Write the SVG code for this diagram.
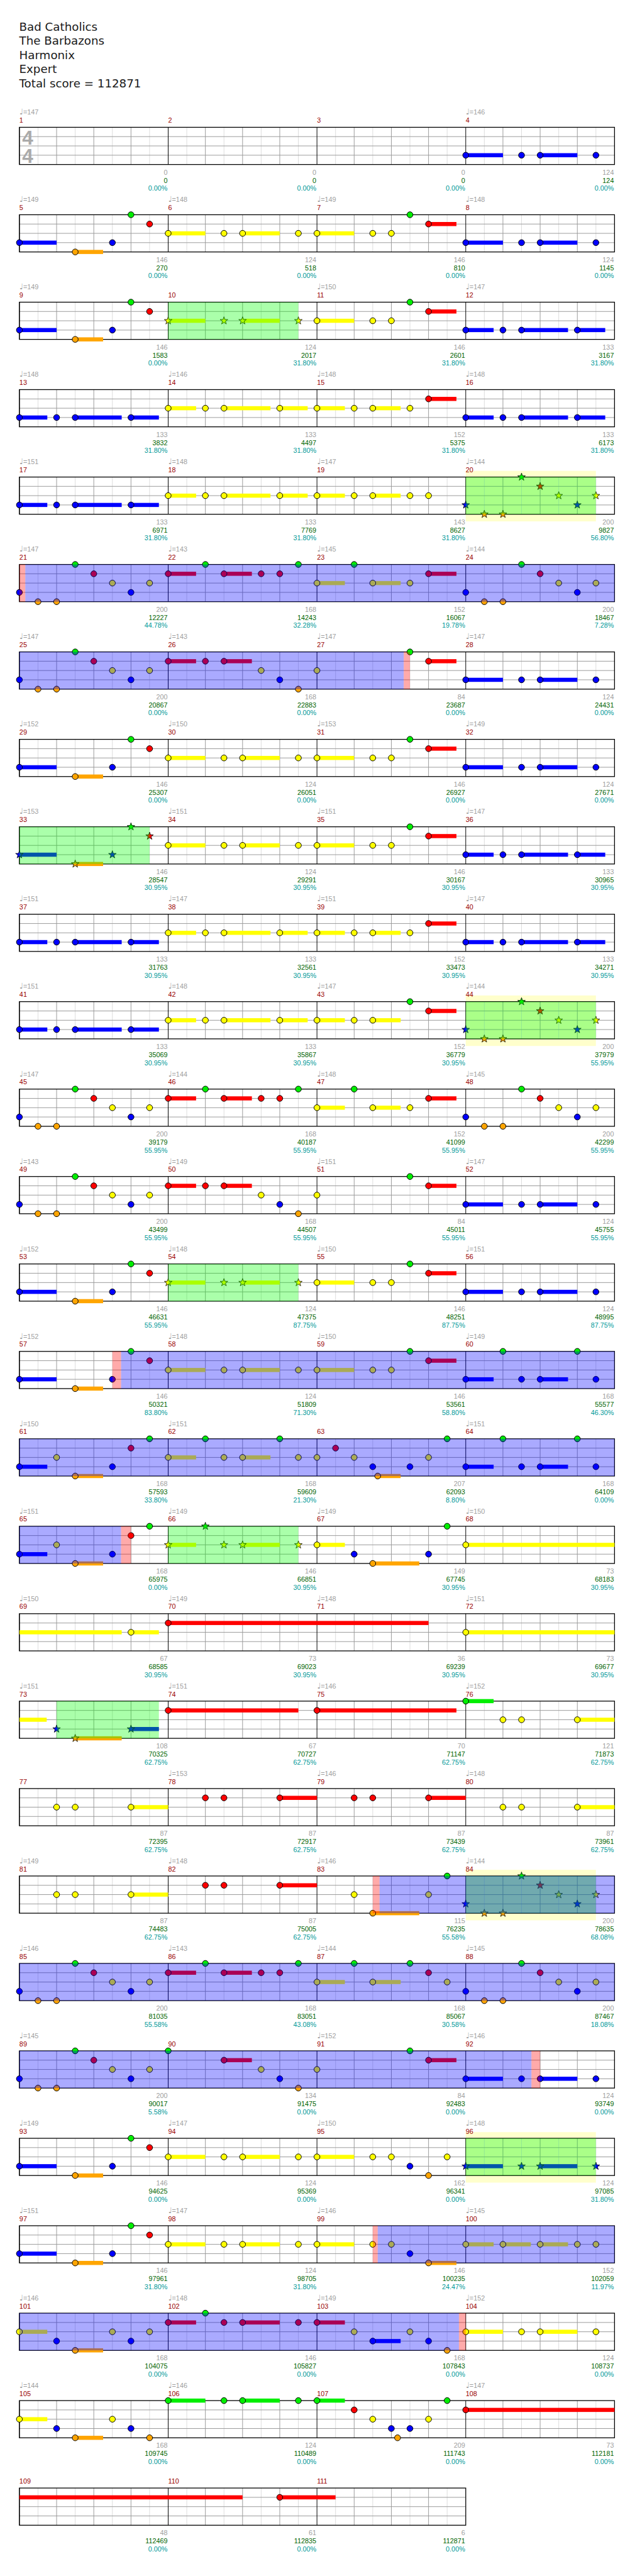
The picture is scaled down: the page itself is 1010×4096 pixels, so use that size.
<svg xmlns="http://www.w3.org/2000/svg" xmlns:xlink="http://www.w3.org/1999/xlink" width="1010" height="4096" viewBox="0 0 1010 4096">
<style>
text{font-family:"Liberation Sans",Arial,sans-serif;font-size:11px}
.t{fill:#a0a0a0}
.m{fill:#990000}
.a{fill:#a0a0a0;text-anchor:end}
.b{fill:#006400;text-anchor:end}
.c{fill:#009999;text-anchor:end}
.h{font-family:"DejaVu Sans",sans-serif;font-size:18.5px;fill:#1a1a1a}
.q{font-family:"DejaVu Sans",sans-serif;font-size:13px}
.ts{font-family:"Liberation Sans",Arial,sans-serif;font-size:32px;font-weight:bold;fill:#aaaaaa}
circle{stroke:#000;stroke-width:1}
.G{fill:#00ee00}.R{fill:#ff0000}.Y{fill:#ffff00}.B{fill:#0000ff}.O{fill:#ffa500}
.od{fill:#00ff00;fill-opacity:.333}
.bl{fill:#0000ff;fill-opacity:.333}
.pk{fill:#ff0000;fill-opacity:.333}
.yl{fill:#ffff00;fill-opacity:.2}
</style>
<defs>
<g id="mg"><path d="M30 0V60M90 0V60M150 0V60M210 0V60" stroke="#dcdcdc"/><path d="M0 15H240M0 30H240M0 45H240M60 0V60M120 0V60M180 0V60" stroke="#9a9a9a"/><path d="M0 0V60" stroke="#000"/></g>
<g id="g4"><use href="#mg"/><use href="#mg" x="240"/><use href="#mg" x="480"/><use href="#mg" x="720"/><rect width="960" height="60" fill="none" stroke="#000" stroke-width="1.3"/></g>
<g id="g3"><use href="#mg"/><use href="#mg" x="240"/><use href="#mg" x="480"/><rect width="720" height="60" fill="none" stroke="#000" stroke-width="1.3"/></g>
<path id="st" d="M0-6.5L1.53-2.1L6.18-2.01L2.47 0.8L3.82 5.26L0 2.6L-3.82 5.26L-2.47 0.8L-6.18-2.01L-1.53-2.1Z" stroke="#000" stroke-width=".8"/>
<g id="pA1"><rect class="B" x="0" y="41.7" width="60" height="6.6"/><rect class="O" x="90" y="56.7" width="45" height="6.6"/><circle class="B" cx="0" cy="45" r="4.8"/><circle class="O" cx="90" cy="60" r="4.8"/><circle class="B" cx="150" cy="45" r="4.8"/><circle class="G" cx="180" cy="0" r="4.8"/><circle class="R" cx="210" cy="15" r="4.8"/></g>
<g id="pA2"><rect class="Y" x="0" y="26.7" width="60" height="6.6"/><rect class="Y" x="120" y="26.7" width="60" height="6.6"/><circle class="Y" cx="0" cy="30" r="4.8"/><circle class="Y" cx="90" cy="30" r="4.8"/><circle class="Y" cx="120" cy="30" r="4.8"/><circle class="Y" cx="210" cy="30" r="4.8"/></g>
<g id="pA3"><rect class="Y" x="0" y="26.7" width="60" height="6.6"/><rect class="R" x="180" y="11.7" width="45" height="6.6"/><circle class="Y" cx="0" cy="30" r="4.8"/><circle class="Y" cx="90" cy="30" r="4.8"/><circle class="Y" cx="120" cy="30" r="4.8"/><circle class="G" cx="150" cy="0" r="4.8"/><circle class="R" cx="180" cy="15" r="4.8"/></g>
<g id="pA4"><rect class="B" x="0" y="41.7" width="60" height="6.6"/><rect class="B" x="120" y="41.7" width="60" height="6.6"/><circle class="B" cx="0" cy="45" r="4.8"/><circle class="B" cx="90" cy="45" r="4.8"/><circle class="B" cx="120" cy="45" r="4.8"/><circle class="B" cx="210" cy="45" r="4.8"/></g>
<g id="pBm"><rect class="B" x="0" y="41.7" width="45" height="6.6"/><rect class="B" x="90" y="41.7" width="75" height="6.6"/><rect class="B" x="180" y="41.7" width="45" height="6.6"/><circle class="B" cx="0" cy="45" r="4.8"/><circle class="B" cx="60" cy="45" r="4.8"/><circle class="B" cx="90" cy="45" r="4.8"/><circle class="B" cx="180" cy="45" r="4.8"/></g>
<g id="pYf"><rect class="Y" x="0" y="26.7" width="45" height="6.6"/><rect class="Y" x="90" y="26.7" width="75" height="6.6"/><rect class="Y" x="180" y="26.7" width="45" height="6.6"/><circle class="Y" cx="0" cy="30" r="4.8"/><circle class="Y" cx="60" cy="30" r="4.8"/><circle class="Y" cx="90" cy="30" r="4.8"/><circle class="Y" cx="180" cy="30" r="4.8"/></g>
<g id="pY2"><rect class="Y" x="0" y="26.7" width="45" height="6.6"/><rect class="Y" x="90" y="26.7" width="45" height="6.6"/><rect class="R" x="180" y="11.7" width="45" height="6.6"/><circle class="Y" cx="0" cy="30" r="4.8"/><circle class="Y" cx="60" cy="30" r="4.8"/><circle class="Y" cx="90" cy="30" r="4.8"/><circle class="Y" cx="150" cy="30" r="4.8"/><circle class="R" cx="180" cy="15" r="4.8"/></g>
<g id="pY3"><rect class="Y" x="0" y="26.7" width="45" height="6.6"/><rect class="Y" x="90" y="26.7" width="45" height="6.6"/><circle class="Y" cx="0" cy="30" r="4.8"/><circle class="Y" cx="60" cy="30" r="4.8"/><circle class="Y" cx="90" cy="30" r="4.8"/><circle class="Y" cx="150" cy="30" r="4.8"/><circle class="Y" cx="180" cy="30" r="4.8"/></g>
<g id="pY4"><rect class="Y" x="0" y="26.7" width="45" height="6.6"/><rect class="Y" x="90" y="26.7" width="45" height="6.6"/><rect class="R" x="180" y="11.7" width="45" height="6.6"/><circle class="Y" cx="0" cy="30" r="4.8"/><circle class="Y" cx="60" cy="30" r="4.8"/><circle class="Y" cx="90" cy="30" r="4.8"/><circle class="G" cx="150" cy="0" r="4.8"/><circle class="R" cx="180" cy="15" r="4.8"/></g>
<g id="pP1"><circle class="B" cx="0" cy="45" r="4.8"/><circle class="O" cx="30" cy="60" r="4.8"/><circle class="O" cx="60" cy="60" r="4.8"/><circle class="G" cx="90" cy="0" r="4.8"/><circle class="R" cx="120" cy="15" r="4.8"/><circle class="Y" cx="150" cy="30" r="4.8"/><circle class="B" cx="180" cy="45" r="4.8"/><circle class="Y" cx="210" cy="30" r="4.8"/></g>
<g id="pP2"><rect class="R" x="0" y="11.7" width="45" height="6.6"/><rect class="R" x="90" y="11.7" width="45" height="6.6"/><circle class="R" cx="0" cy="15" r="4.8"/><circle class="G" cx="60" cy="0" r="4.8"/><circle class="R" cx="90" cy="15" r="4.8"/><circle class="R" cx="150" cy="15" r="4.8"/><circle class="R" cx="180" cy="15" r="4.8"/><circle class="G" cx="210" cy="0" r="4.8"/></g>
<g id="pP3"><rect class="Y" x="0" y="26.7" width="45" height="6.6"/><rect class="Y" x="90" y="26.7" width="45" height="6.6"/><rect class="R" x="180" y="11.7" width="45" height="6.6"/><circle class="Y" cx="0" cy="30" r="4.8"/><circle class="G" cx="60" cy="0" r="4.8"/><circle class="Y" cx="90" cy="30" r="4.8"/><circle class="Y" cx="150" cy="30" r="4.8"/><circle class="R" cx="180" cy="15" r="4.8"/></g>
<g id="pP2b"><rect class="R" x="0" y="11.7" width="45" height="6.6"/><rect class="R" x="90" y="11.7" width="45" height="6.6"/><circle class="R" cx="0" cy="15" r="4.8"/><circle class="R" cx="60" cy="15" r="4.8"/><circle class="R" cx="90" cy="15" r="4.8"/><circle class="Y" cx="150" cy="30" r="4.8"/><circle class="B" cx="180" cy="45" r="4.8"/><circle class="O" cx="210" cy="60" r="4.8"/></g>
<g id="pP3b"><rect class="R" x="180" y="11.7" width="45" height="6.6"/><circle class="Y" cx="0" cy="30" r="4.8"/><circle class="G" cx="150" cy="0" r="4.8"/><circle class="R" cx="180" cy="15" r="4.8"/></g>
<g id="pF"><rect class="B" x="0" y="41.7" width="45" height="6.6"/><rect class="B" x="120" y="41.7" width="45" height="6.6"/><circle class="B" cx="0" cy="45" r="4.8"/><circle class="G" cx="60" cy="0" r="4.8"/><circle class="B" cx="90" cy="45" r="4.8"/><circle class="B" cx="120" cy="45" r="4.8"/><circle class="G" cx="180" cy="0" r="4.8"/><circle class="B" cx="210" cy="45" r="4.8"/></g>
<g id="pM61"><rect class="B" x="0" y="41.7" width="45" height="6.6"/><rect class="O" x="90" y="56.7" width="45" height="6.6"/><circle class="B" cx="0" cy="45" r="4.8"/><circle class="Y" cx="60" cy="30" r="4.8"/><circle class="O" cx="90" cy="60" r="4.8"/><circle class="B" cx="150" cy="45" r="4.8"/><circle class="R" cx="180" cy="15" r="4.8"/><circle class="G" cx="210" cy="0" r="4.8"/></g>
<g id="pQY"><rect class="Y" x="180" y="26.7" width="60" height="6.6"/><circle class="Y" cx="60" cy="30" r="4.8"/><circle class="Y" cx="90" cy="30" r="4.8"/><circle class="Y" cx="180" cy="30" r="4.8"/></g>
<g id="pQR"><rect class="R" x="180" y="11.7" width="60" height="6.6"/><circle class="R" cx="60" cy="15" r="4.8"/><circle class="R" cx="90" cy="15" r="4.8"/><circle class="R" cx="180" cy="15" r="4.8"/></g>
<g id="sA1"><rect class="B" x="0" y="41.7" width="60" height="6.6"/><rect class="O" x="90" y="56.7" width="45" height="6.6"/><use href="#st" class="B" x="0" y="45"/><use href="#st" class="O" x="90" y="60"/><use href="#st" class="B" x="150" y="45"/><use href="#st" class="G" x="180" y="0"/><use href="#st" class="R" x="210" y="15"/></g>
<g id="sA2"><rect class="Y" x="0" y="26.7" width="60" height="6.6"/><rect class="Y" x="120" y="26.7" width="60" height="6.6"/><use href="#st" class="Y" x="0" y="30"/><use href="#st" class="Y" x="90" y="30"/><use href="#st" class="Y" x="120" y="30"/><use href="#st" class="Y" x="210" y="30"/></g>
<g id="sP1"><use href="#st" class="B" x="0" y="45"/><use href="#st" class="O" x="30" y="60"/><use href="#st" class="O" x="60" y="60"/><use href="#st" class="G" x="90" y="0"/><use href="#st" class="R" x="120" y="15"/><use href="#st" class="Y" x="150" y="30"/><use href="#st" class="B" x="180" y="45"/><use href="#st" class="Y" x="210" y="30"/></g>
<g id="sA4"><rect class="B" x="0" y="41.7" width="60" height="6.6"/><rect class="B" x="120" y="41.7" width="60" height="6.6"/><use href="#st" class="B" x="0" y="45"/><use href="#st" class="B" x="90" y="45"/><use href="#st" class="B" x="120" y="45"/><use href="#st" class="B" x="210" y="45"/></g>
</defs>
<rect width="1010" height="4096" fill="#fff"/>
<g transform="scale(0.986)">
<g id="title">
<text class="h" x="31" y="49.3">Bad Catholics</text>
<text class="h" x="31" y="71.7">The Barbazons</text>
<text class="h" x="31" y="95">Harmonix</text>
<text class="h" x="31" y="117.7">Expert</text>
<text class="h" x="31" y="141">Total score = 112871</text>
</g>

<g id="row1" transform="translate(31.3,205.3)">
<use href="#g4"/>
<text class="ts" x="4.5" y="27.5">4</text><text class="ts" x="4.5" y="57.5">4</text>
<use href="#pA4" x="720"/>
<text class="t" y="-20.5"><tspan x="0" class="q">♩</tspan>=147<tspan x="720" class="q">♩</tspan>=146</text>
<text class="m" y="-7.5"><tspan x="0">1</tspan><tspan x="240">2</tspan><tspan x="480">3</tspan><tspan x="720">4</tspan></text>
<text class="a" y="76.3"><tspan x="239">0</tspan><tspan x="479">0</tspan><tspan x="719">0</tspan><tspan x="959">124</tspan></text>
<text class="b" y="89.6"><tspan x="239">0</tspan><tspan x="479">0</tspan><tspan x="719">0</tspan><tspan x="959">124</tspan></text>
<text class="c" y="102.3"><tspan x="239">0.00%</tspan><tspan x="479">0.00%</tspan><tspan x="719">0.00%</tspan><tspan x="959">0.00%</tspan></text>
</g>

<g id="row2" transform="translate(31.3,346.3)">
<use href="#g4"/>
<use href="#pA1"/><use href="#pA2" x="240"/><use href="#pA3" x="480"/><use href="#pA4" x="720"/>
<text class="t" y="-20.5"><tspan x="0" class="q">♩</tspan>=149<tspan x="240" class="q">♩</tspan>=148<tspan x="480" class="q">♩</tspan>=149<tspan x="720" class="q">♩</tspan>=148</text>
<text class="m" y="-7.5"><tspan x="0">5</tspan><tspan x="240">6</tspan><tspan x="480">7</tspan><tspan x="720">8</tspan></text>
<text class="a" y="76.3"><tspan x="239">146</tspan><tspan x="479">124</tspan><tspan x="719">146</tspan><tspan x="959">124</tspan></text>
<text class="b" y="89.6"><tspan x="239">270</tspan><tspan x="479">518</tspan><tspan x="719">810</tspan><tspan x="959">1145</tspan></text>
<text class="c" y="102.3"><tspan x="239">0.00%</tspan><tspan x="479">0.00%</tspan><tspan x="719">0.00%</tspan><tspan x="959">0.00%</tspan></text>
</g>

<g id="row3" transform="translate(31.3,487.3)">
<use href="#g4"/>
<use href="#pA1"/><use href="#sA2" x="240"/><use href="#pA3" x="480"/><use href="#pBm" x="720"/>
<rect class="od" x="240" width="210" height="60"/>
<text class="t" y="-20.5"><tspan x="0" class="q">♩</tspan>=149<tspan x="480" class="q">♩</tspan>=150<tspan x="720" class="q">♩</tspan>=147</text>
<text class="m" y="-7.5"><tspan x="0">9</tspan><tspan x="240">10</tspan><tspan x="480">11</tspan><tspan x="720">12</tspan></text>
<text class="a" y="76.3"><tspan x="239">146</tspan><tspan x="479">124</tspan><tspan x="719">146</tspan><tspan x="959">133</tspan></text>
<text class="b" y="89.6"><tspan x="239">1583</tspan><tspan x="479">2017</tspan><tspan x="719">2601</tspan><tspan x="959">3167</tspan></text>
<text class="c" y="102.3"><tspan x="239">0.00%</tspan><tspan x="479">31.80%</tspan><tspan x="719">31.80%</tspan><tspan x="959">31.80%</tspan></text>
</g>

<g id="row4" transform="translate(31.3,628.3)">
<use href="#g4"/>
<use href="#pBm"/><use href="#pYf" x="240"/><use href="#pY2" x="480"/><use href="#pBm" x="720"/>
<text class="t" y="-20.5"><tspan x="0" class="q">♩</tspan>=148<tspan x="240" class="q">♩</tspan>=146<tspan x="480" class="q">♩</tspan>=148<tspan x="720" class="q">♩</tspan>=148</text>
<text class="m" y="-7.5"><tspan x="0">13</tspan><tspan x="240">14</tspan><tspan x="480">15</tspan><tspan x="720">16</tspan></text>
<text class="a" y="76.3"><tspan x="239">133</tspan><tspan x="479">133</tspan><tspan x="719">152</tspan><tspan x="959">133</tspan></text>
<text class="b" y="89.6"><tspan x="239">3832</tspan><tspan x="479">4497</tspan><tspan x="719">5375</tspan><tspan x="959">6173</tspan></text>
<text class="c" y="102.3"><tspan x="239">31.80%</tspan><tspan x="479">31.80%</tspan><tspan x="719">31.80%</tspan><tspan x="959">31.80%</tspan></text>
</g>

<g id="row5" transform="translate(31.3,769.3)">
<rect class="yl" x="720" y="-10" width="210" height="81.5"/>
<use href="#g4"/>
<use href="#pBm"/><use href="#pYf" x="240"/><use href="#pY3" x="480"/><use href="#sP1" x="720"/>
<rect class="od" x="720" width="210" height="60"/>
<text class="t" y="-20.5"><tspan x="0" class="q">♩</tspan>=151<tspan x="240" class="q">♩</tspan>=148<tspan x="480" class="q">♩</tspan>=147<tspan x="720" class="q">♩</tspan>=144</text>
<text class="m" y="-7.5"><tspan x="0">17</tspan><tspan x="240">18</tspan><tspan x="480">19</tspan><tspan x="720">20</tspan></text>
<text class="a" y="76.3"><tspan x="239">133</tspan><tspan x="479">133</tspan><tspan x="719">143</tspan><tspan x="959">200</tspan></text>
<text class="b" y="89.6"><tspan x="239">6971</tspan><tspan x="479">7769</tspan><tspan x="719">8627</tspan><tspan x="959">9827</tspan></text>
<text class="c" y="102.3"><tspan x="239">31.80%</tspan><tspan x="479">31.80%</tspan><tspan x="719">31.80%</tspan><tspan x="959">56.80%</tspan></text>
</g>

<g id="row6" transform="translate(31.3,910.3)">
<use href="#g4"/>
<use href="#pP1"/><use href="#pP2" x="240"/><use href="#pP3" x="480"/><use href="#pP1" x="720"/>
<rect class="pk" x="0" width="9.5" height="60"/><rect class="bl" x="9.5" width="950.5" height="60"/>
<text class="t" y="-20.5"><tspan x="0" class="q">♩</tspan>=147<tspan x="240" class="q">♩</tspan>=143<tspan x="480" class="q">♩</tspan>=145<tspan x="720" class="q">♩</tspan>=144</text>
<text class="m" y="-7.5"><tspan x="0">21</tspan><tspan x="240">22</tspan><tspan x="480">23</tspan><tspan x="720">24</tspan></text>
<text class="a" y="76.3"><tspan x="239">200</tspan><tspan x="479">168</tspan><tspan x="719">152</tspan><tspan x="959">200</tspan></text>
<text class="b" y="89.6"><tspan x="239">12227</tspan><tspan x="479">14243</tspan><tspan x="719">16067</tspan><tspan x="959">18467</tspan></text>
<text class="c" y="102.3"><tspan x="239">44.78%</tspan><tspan x="479">32.28%</tspan><tspan x="719">19.78%</tspan><tspan x="959">7.28%</tspan></text>
</g>

<g id="row7" transform="translate(31.3,1051.3)">
<use href="#g4"/>
<use href="#pP1"/><use href="#pP2b" x="240"/><use href="#pP3b" x="480"/><use href="#pA4" x="720"/>
<rect class="bl" x="0" width="620" height="60"/><rect class="pk" x="620" width="10" height="60"/>
<text class="t" y="-20.5"><tspan x="0" class="q">♩</tspan>=147<tspan x="240" class="q">♩</tspan>=143<tspan x="480" class="q">♩</tspan>=147<tspan x="720" class="q">♩</tspan>=147</text>
<text class="m" y="-7.5"><tspan x="0">25</tspan><tspan x="240">26</tspan><tspan x="480">27</tspan><tspan x="720">28</tspan></text>
<text class="a" y="76.3"><tspan x="239">200</tspan><tspan x="479">168</tspan><tspan x="719">84</tspan><tspan x="959">124</tspan></text>
<text class="b" y="89.6"><tspan x="239">20867</tspan><tspan x="479">22883</tspan><tspan x="719">23687</tspan><tspan x="959">24431</tspan></text>
<text class="c" y="102.3"><tspan x="239">0.00%</tspan><tspan x="479">0.00%</tspan><tspan x="719">0.00%</tspan><tspan x="959">0.00%</tspan></text>
</g>

<g id="row8" transform="translate(31.3,1192.3)">
<use href="#g4"/>
<use href="#pA1"/><use href="#pA2" x="240"/><use href="#pA3" x="480"/><use href="#pA4" x="720"/>
<text class="t" y="-20.5"><tspan x="0" class="q">♩</tspan>=152<tspan x="240" class="q">♩</tspan>=150<tspan x="480" class="q">♩</tspan>=153<tspan x="720" class="q">♩</tspan>=149</text>
<text class="m" y="-7.5"><tspan x="0">29</tspan><tspan x="240">30</tspan><tspan x="480">31</tspan><tspan x="720">32</tspan></text>
<text class="a" y="76.3"><tspan x="239">146</tspan><tspan x="479">124</tspan><tspan x="719">146</tspan><tspan x="959">124</tspan></text>
<text class="b" y="89.6"><tspan x="239">25307</tspan><tspan x="479">26051</tspan><tspan x="719">26927</tspan><tspan x="959">27671</tspan></text>
<text class="c" y="102.3"><tspan x="239">0.00%</tspan><tspan x="479">0.00%</tspan><tspan x="719">0.00%</tspan><tspan x="959">0.00%</tspan></text>
</g>

<g id="row9" transform="translate(31.3,1333.3)">
<use href="#g4"/>
<use href="#sA1"/><use href="#pA2" x="240"/><use href="#pA3" x="480"/><use href="#pBm" x="720"/>
<rect class="od" x="0" width="210" height="60"/>
<text class="t" y="-20.5"><tspan x="0" class="q">♩</tspan>=153<tspan x="240" class="q">♩</tspan>=151<tspan x="480" class="q">♩</tspan>=151<tspan x="720" class="q">♩</tspan>=147</text>
<text class="m" y="-7.5"><tspan x="0">33</tspan><tspan x="240">34</tspan><tspan x="480">35</tspan><tspan x="720">36</tspan></text>
<text class="a" y="76.3"><tspan x="239">146</tspan><tspan x="479">124</tspan><tspan x="719">146</tspan><tspan x="959">133</tspan></text>
<text class="b" y="89.6"><tspan x="239">28547</tspan><tspan x="479">29291</tspan><tspan x="719">30167</tspan><tspan x="959">30965</tspan></text>
<text class="c" y="102.3"><tspan x="239">30.95%</tspan><tspan x="479">30.95%</tspan><tspan x="719">30.95%</tspan><tspan x="959">30.95%</tspan></text>
</g>

<g id="row10" transform="translate(31.3,1474.3)">
<use href="#g4"/>
<use href="#pBm"/><use href="#pYf" x="240"/><use href="#pY2" x="480"/><use href="#pBm" x="720"/>
<text class="t" y="-20.5"><tspan x="0" class="q">♩</tspan>=151<tspan x="240" class="q">♩</tspan>=147<tspan x="480" class="q">♩</tspan>=151<tspan x="720" class="q">♩</tspan>=147</text>
<text class="m" y="-7.5"><tspan x="0">37</tspan><tspan x="240">38</tspan><tspan x="480">39</tspan><tspan x="720">40</tspan></text>
<text class="a" y="76.3"><tspan x="239">133</tspan><tspan x="479">133</tspan><tspan x="719">152</tspan><tspan x="959">133</tspan></text>
<text class="b" y="89.6"><tspan x="239">31763</tspan><tspan x="479">32561</tspan><tspan x="719">33473</tspan><tspan x="959">34271</tspan></text>
<text class="c" y="102.3"><tspan x="239">30.95%</tspan><tspan x="479">30.95%</tspan><tspan x="719">30.95%</tspan><tspan x="959">30.95%</tspan></text>
</g>

<g id="row11" transform="translate(31.3,1615.3)">
<rect class="yl" x="720" y="-10" width="210" height="81.5"/>
<use href="#g4"/>
<use href="#pBm"/><use href="#pYf" x="240"/><use href="#pY4" x="480"/><use href="#sP1" x="720"/>
<rect class="od" x="720" width="210" height="60"/>
<text class="t" y="-20.5"><tspan x="0" class="q">♩</tspan>=151<tspan x="240" class="q">♩</tspan>=148<tspan x="480" class="q">♩</tspan>=147<tspan x="720" class="q">♩</tspan>=144</text>
<text class="m" y="-7.5"><tspan x="0">41</tspan><tspan x="240">42</tspan><tspan x="480">43</tspan><tspan x="720">44</tspan></text>
<text class="a" y="76.3"><tspan x="239">133</tspan><tspan x="479">133</tspan><tspan x="719">152</tspan><tspan x="959">200</tspan></text>
<text class="b" y="89.6"><tspan x="239">35069</tspan><tspan x="479">35867</tspan><tspan x="719">36779</tspan><tspan x="959">37979</tspan></text>
<text class="c" y="102.3"><tspan x="239">30.95%</tspan><tspan x="479">30.95%</tspan><tspan x="719">30.95%</tspan><tspan x="959">55.95%</tspan></text>
</g>

<g id="row12" transform="translate(31.3,1756.3)">
<use href="#g4"/>
<use href="#pP1"/><use href="#pP2" x="240"/><use href="#pP3" x="480"/><use href="#pP1" x="720"/>
<text class="t" y="-20.5"><tspan x="0" class="q">♩</tspan>=147<tspan x="240" class="q">♩</tspan>=144<tspan x="480" class="q">♩</tspan>=148<tspan x="720" class="q">♩</tspan>=145</text>
<text class="m" y="-7.5"><tspan x="0">45</tspan><tspan x="240">46</tspan><tspan x="480">47</tspan><tspan x="720">48</tspan></text>
<text class="a" y="76.3"><tspan x="239">200</tspan><tspan x="479">168</tspan><tspan x="719">152</tspan><tspan x="959">200</tspan></text>
<text class="b" y="89.6"><tspan x="239">39179</tspan><tspan x="479">40187</tspan><tspan x="719">41099</tspan><tspan x="959">42299</tspan></text>
<text class="c" y="102.3"><tspan x="239">55.95%</tspan><tspan x="479">55.95%</tspan><tspan x="719">55.95%</tspan><tspan x="959">55.95%</tspan></text>
</g>

<g id="row13" transform="translate(31.3,1897.3)">
<use href="#g4"/>
<use href="#pP1"/><use href="#pP2b" x="240"/><use href="#pP3b" x="480"/><use href="#pA4" x="720"/>
<text class="t" y="-20.5"><tspan x="0" class="q">♩</tspan>=143<tspan x="240" class="q">♩</tspan>=149<tspan x="480" class="q">♩</tspan>=151<tspan x="720" class="q">♩</tspan>=147</text>
<text class="m" y="-7.5"><tspan x="0">49</tspan><tspan x="240">50</tspan><tspan x="480">51</tspan><tspan x="720">52</tspan></text>
<text class="a" y="76.3"><tspan x="239">200</tspan><tspan x="479">168</tspan><tspan x="719">84</tspan><tspan x="959">124</tspan></text>
<text class="b" y="89.6"><tspan x="239">43499</tspan><tspan x="479">44507</tspan><tspan x="719">45011</tspan><tspan x="959">45755</tspan></text>
<text class="c" y="102.3"><tspan x="239">55.95%</tspan><tspan x="479">55.95%</tspan><tspan x="719">55.95%</tspan><tspan x="959">55.95%</tspan></text>
</g>

<g id="row14" transform="translate(31.3,2038.3)">
<use href="#g4"/>
<use href="#pA1"/><use href="#sA2" x="240"/><use href="#pA3" x="480"/><use href="#pA4" x="720"/>
<rect class="od" x="240" width="210" height="60"/>
<text class="t" y="-20.5"><tspan x="0" class="q">♩</tspan>=152<tspan x="240" class="q">♩</tspan>=148<tspan x="480" class="q">♩</tspan>=150<tspan x="720" class="q">♩</tspan>=151</text>
<text class="m" y="-7.5"><tspan x="0">53</tspan><tspan x="240">54</tspan><tspan x="480">55</tspan><tspan x="720">56</tspan></text>
<text class="a" y="76.3"><tspan x="239">146</tspan><tspan x="479">124</tspan><tspan x="719">146</tspan><tspan x="959">124</tspan></text>
<text class="b" y="89.6"><tspan x="239">46631</tspan><tspan x="479">47375</tspan><tspan x="719">48251</tspan><tspan x="959">48995</tspan></text>
<text class="c" y="102.3"><tspan x="239">55.95%</tspan><tspan x="479">87.75%</tspan><tspan x="719">87.75%</tspan><tspan x="959">87.75%</tspan></text>
</g>

<g id="row15" transform="translate(31.3,2179.3)">
<use href="#g4"/>
<use href="#pA1"/><use href="#pA2" x="240"/><use href="#pA3" x="480"/><use href="#pF" x="720"/>
<rect class="pk" x="150" width="14" height="60"/><rect class="bl" x="164" width="796" height="60"/>
<text class="t" y="-20.5"><tspan x="0" class="q">♩</tspan>=152<tspan x="240" class="q">♩</tspan>=148<tspan x="480" class="q">♩</tspan>=150<tspan x="720" class="q">♩</tspan>=149</text>
<text class="m" y="-7.5"><tspan x="0">57</tspan><tspan x="240">58</tspan><tspan x="480">59</tspan><tspan x="720">60</tspan></text>
<text class="a" y="76.3"><tspan x="239">146</tspan><tspan x="479">124</tspan><tspan x="719">146</tspan><tspan x="959">168</tspan></text>
<text class="b" y="89.6"><tspan x="239">50321</tspan><tspan x="479">51809</tspan><tspan x="719">53561</tspan><tspan x="959">55577</tspan></text>
<text class="c" y="102.3"><tspan x="239">83.80%</tspan><tspan x="479">71.30%</tspan><tspan x="719">58.80%</tspan><tspan x="959">46.30%</tspan></text>
</g>

<g id="row16" transform="translate(31.3,2320.3)">
<use href="#g4"/>
<use href="#pM61"/>
<g transform="translate(240,0)"><rect class="Y" x="0" y="26.7" width="45" height="6.6"/><rect class="Y" x="120" y="26.7" width="45" height="6.6"/><circle class="Y" cx="0" cy="30" r="4.8"/><circle class="G" cx="60" cy="0" r="4.8"/><circle class="Y" cx="90" cy="30" r="4.8"/><circle class="Y" cx="120" cy="30" r="4.8"/><circle class="G" cx="180" cy="0" r="4.8"/><circle class="Y" cx="210" cy="30" r="4.8"/></g>
<g transform="translate(480,0)"><rect class="O" x="98" y="56.7" width="37" height="6.6"/><circle class="Y" cx="0" cy="30" r="4.8"/><circle class="R" cx="30" cy="15" r="4.8"/><circle class="Y" cx="60" cy="30" r="4.8"/><circle class="B" cx="90" cy="45" r="4.8"/><circle class="O" cx="98" cy="60" r="4.8"/><circle class="B" cx="150" cy="45" r="4.8"/><circle class="Y" cx="180" cy="30" r="4.8"/><circle class="G" cx="210" cy="0" r="4.8"/></g>
<use href="#pF" x="720"/>
<rect class="bl" x="0" width="960" height="60"/>
<text class="t" y="-20.5"><tspan x="0" class="q">♩</tspan>=150<tspan x="240" class="q">♩</tspan>=151<tspan x="720" class="q">♩</tspan>=151</text>
<text class="m" y="-7.5"><tspan x="0">61</tspan><tspan x="240">62</tspan><tspan x="480">63</tspan><tspan x="720">64</tspan></text>
<text class="a" y="76.3"><tspan x="239">168</tspan><tspan x="479">168</tspan><tspan x="719">207</tspan><tspan x="959">168</tspan></text>
<text class="b" y="89.6"><tspan x="239">57593</tspan><tspan x="479">59609</tspan><tspan x="719">62093</tspan><tspan x="959">64109</tspan></text>
<text class="c" y="102.3"><tspan x="239">33.80%</tspan><tspan x="479">21.30%</tspan><tspan x="719">8.80%</tspan><tspan x="959">0.00%</tspan></text>
</g>

<g id="row17" transform="translate(31.3,2461.3)">
<use href="#g4"/>
<use href="#pM61"/>
<g transform="translate(240,0)"><rect class="Y" x="0" y="26.7" width="45" height="6.6"/><rect class="Y" x="120" y="26.7" width="60" height="6.6"/><use href="#st" class="Y" x="0" y="30"/><use href="#st" class="G" x="60" y="0"/><use href="#st" class="Y" x="90" y="30"/><use href="#st" class="Y" x="120" y="30"/><use href="#st" class="Y" x="210" y="30"/></g>
<g transform="translate(480,0)"><rect class="Y" x="0" y="26.7" width="45" height="6.6"/><rect class="O" x="90" y="56.7" width="75" height="6.6"/><circle class="Y" cx="0" cy="30" r="4.8"/><circle class="B" cx="60" cy="45" r="4.8"/><circle class="O" cx="90" cy="60" r="4.8"/><circle class="B" cx="180" cy="45" r="4.8"/><circle class="G" cx="210" cy="0" r="4.8"/></g>
<rect class="Y" x="720" y="26.7" width="240" height="6.6"/><circle class="Y" cx="720" cy="30" r="4.8"/>
<rect class="bl" x="0" width="164" height="60"/><rect class="pk" x="164" width="16" height="60"/><rect class="od" x="240" width="210" height="60"/>
<text class="t" y="-20.5"><tspan x="0" class="q">♩</tspan>=151<tspan x="240" class="q">♩</tspan>=149<tspan x="480" class="q">♩</tspan>=149<tspan x="720" class="q">♩</tspan>=150</text>
<text class="m" y="-7.5"><tspan x="0">65</tspan><tspan x="240">66</tspan><tspan x="480">67</tspan><tspan x="720">68</tspan></text>
<text class="a" y="76.3"><tspan x="239">168</tspan><tspan x="479">146</tspan><tspan x="719">149</tspan><tspan x="959">73</tspan></text>
<text class="b" y="89.6"><tspan x="239">65975</tspan><tspan x="479">66851</tspan><tspan x="719">67745</tspan><tspan x="959">68183</tspan></text>
<text class="c" y="102.3"><tspan x="239">0.00%</tspan><tspan x="479">30.95%</tspan><tspan x="719">30.95%</tspan><tspan x="959">30.95%</tspan></text>
</g>

<g id="row18" transform="translate(31.3,2602.3)">
<use href="#g4"/>
<rect class="Y" x="0" y="26.7" width="165" height="6.6"/><rect class="Y" x="180" y="26.7" width="45" height="6.6"/><circle class="Y" cx="180" cy="30" r="4.8"/>
<rect class="R" x="240" y="11.7" width="420" height="6.6"/><circle class="R" cx="240" cy="15" r="4.8"/>
<rect class="Y" x="720" y="26.7" width="240" height="6.6"/><circle class="Y" cx="720" cy="30" r="4.8"/>
<text class="t" y="-20.5"><tspan x="0" class="q">♩</tspan>=150<tspan x="240" class="q">♩</tspan>=149<tspan x="480" class="q">♩</tspan>=148<tspan x="720" class="q">♩</tspan>=151</text>
<text class="m" y="-7.5"><tspan x="0">69</tspan><tspan x="240">70</tspan><tspan x="480">71</tspan><tspan x="720">72</tspan></text>
<text class="a" y="76.3"><tspan x="239">67</tspan><tspan x="479">73</tspan><tspan x="719">36</tspan><tspan x="959">73</tspan></text>
<text class="b" y="89.6"><tspan x="239">68585</tspan><tspan x="479">69023</tspan><tspan x="719">69239</tspan><tspan x="959">69677</tspan></text>
<text class="c" y="102.3"><tspan x="239">30.95%</tspan><tspan x="479">30.95%</tspan><tspan x="719">30.95%</tspan><tspan x="959">30.95%</tspan></text>
</g>

<g id="row19" transform="translate(31.3,2743.3)">
<use href="#g4"/>
<rect class="Y" x="0" y="26.7" width="44" height="6.6"/><rect class="O" x="90" y="56.7" width="75" height="6.6"/><rect class="B" x="180" y="41.7" width="45" height="6.6"/>
<use href="#st" class="B" x="60" y="45"/><use href="#st" class="O" x="90" y="60"/><use href="#st" class="B" x="180" y="45"/>
<rect class="R" x="240" y="11.7" width="210" height="6.6"/><circle class="R" cx="240" cy="15" r="4.8"/>
<rect class="R" x="480" y="11.7" width="225" height="6.6"/><circle class="R" cx="480" cy="15" r="4.8"/>
<rect class="G" x="720" y="-3.3" width="45" height="6.6"/><circle class="G" cx="720" cy="0" r="4.8"/>
<rect class="Y" x="900" y="26.7" width="60" height="6.6"/><circle class="Y" cx="780" cy="30" r="4.8"/><circle class="Y" cx="810" cy="30" r="4.8"/><circle class="Y" cx="900" cy="30" r="4.8"/>
<rect class="od" x="60" width="165" height="60"/>
<text class="t" y="-20.5"><tspan x="0" class="q">♩</tspan>=151<tspan x="240" class="q">♩</tspan>=151<tspan x="480" class="q">♩</tspan>=146<tspan x="720" class="q">♩</tspan>=152</text>
<text class="m" y="-7.5"><tspan x="0">73</tspan><tspan x="240">74</tspan><tspan x="480">75</tspan><tspan x="720">76</tspan></text>
<text class="a" y="76.3"><tspan x="239">108</tspan><tspan x="479">67</tspan><tspan x="719">70</tspan><tspan x="959">121</tspan></text>
<text class="b" y="89.6"><tspan x="239">70325</tspan><tspan x="479">70727</tspan><tspan x="719">71147</tspan><tspan x="959">71873</tspan></text>
<text class="c" y="102.3"><tspan x="239">62.75%</tspan><tspan x="479">62.75%</tspan><tspan x="719">62.75%</tspan><tspan x="959">62.75%</tspan></text>
</g>

<g id="row20" transform="translate(31.3,2884.3)">
<use href="#g4"/>
<use href="#pQY"/><use href="#pQR" x="240"/><use href="#pQR" x="480"/><use href="#pQY" x="720"/>
<text class="t" y="-20.5"><tspan x="240" class="q">♩</tspan>=153<tspan x="480" class="q">♩</tspan>=146<tspan x="720" class="q">♩</tspan>=148</text>
<text class="m" y="-7.5"><tspan x="0">77</tspan><tspan x="240">78</tspan><tspan x="480">79</tspan><tspan x="720">80</tspan></text>
<text class="a" y="76.3"><tspan x="239">87</tspan><tspan x="479">87</tspan><tspan x="719">87</tspan><tspan x="959">87</tspan></text>
<text class="b" y="89.6"><tspan x="239">72395</tspan><tspan x="479">72917</tspan><tspan x="719">73439</tspan><tspan x="959">73961</tspan></text>
<text class="c" y="102.3"><tspan x="239">62.75%</tspan><tspan x="479">62.75%</tspan><tspan x="719">62.75%</tspan><tspan x="959">62.75%</tspan></text>
</g>

<g id="row21" transform="translate(31.3,3025.3)">
<rect class="yl" x="720" y="-10" width="210" height="81.5"/>
<use href="#g4"/>
<use href="#pQY"/><use href="#pQR" x="240"/>
<g transform="translate(480,0)"><rect class="O" x="90" y="56.7" width="75" height="6.6"/><circle class="Y" cx="60" cy="30" r="4.8"/><circle class="O" cx="90" cy="60" r="4.8"/><circle class="Y" cx="180" cy="30" r="4.8"/><circle class="G" cx="210" cy="0" r="4.8"/></g>
<use href="#sP1" x="720"/>
<rect class="od" x="720" width="210" height="60"/>
<rect class="pk" x="570" width="11" height="60"/><rect class="bl" x="581" width="379" height="60"/>
<text class="t" y="-20.5"><tspan x="0" class="q">♩</tspan>=149<tspan x="240" class="q">♩</tspan>=148<tspan x="480" class="q">♩</tspan>=146<tspan x="720" class="q">♩</tspan>=144</text>
<text class="m" y="-7.5"><tspan x="0">81</tspan><tspan x="240">82</tspan><tspan x="480">83</tspan><tspan x="720">84</tspan></text>
<text class="a" y="76.3"><tspan x="239">87</tspan><tspan x="479">87</tspan><tspan x="719">115</tspan><tspan x="959">200</tspan></text>
<text class="b" y="89.6"><tspan x="239">74483</tspan><tspan x="479">75005</tspan><tspan x="719">76235</tspan><tspan x="959">78635</tspan></text>
<text class="c" y="102.3"><tspan x="239">62.75%</tspan><tspan x="479">62.75%</tspan><tspan x="719">55.58%</tspan><tspan x="959">68.08%</tspan></text>
</g>

<g id="row22" transform="translate(31.3,3166.3)">
<use href="#g4"/>
<use href="#pP1"/><use href="#pP2" x="240"/>
<g transform="translate(480,0)"><rect class="Y" x="0" y="26.7" width="45" height="6.6"/><rect class="Y" x="90" y="26.7" width="45" height="6.6"/><circle class="Y" cx="0" cy="30" r="4.8"/><circle class="G" cx="60" cy="0" r="4.8"/><circle class="Y" cx="90" cy="30" r="4.8"/><circle class="G" cx="150" cy="0" r="4.8"/><circle class="R" cx="180" cy="15" r="4.8"/><circle class="Y" cx="210" cy="30" r="4.8"/></g>
<use href="#pP1" x="720"/>
<rect class="bl" x="0" width="960" height="60"/>
<text class="t" y="-20.5"><tspan x="0" class="q">♩</tspan>=146<tspan x="240" class="q">♩</tspan>=143<tspan x="480" class="q">♩</tspan>=144<tspan x="720" class="q">♩</tspan>=145</text>
<text class="m" y="-7.5"><tspan x="0">85</tspan><tspan x="240">86</tspan><tspan x="480">87</tspan><tspan x="720">88</tspan></text>
<text class="a" y="76.3"><tspan x="239">200</tspan><tspan x="479">168</tspan><tspan x="719">168</tspan><tspan x="959">200</tspan></text>
<text class="b" y="89.6"><tspan x="239">81035</tspan><tspan x="479">83051</tspan><tspan x="719">85067</tspan><tspan x="959">87467</tspan></text>
<text class="c" y="102.3"><tspan x="239">55.58%</tspan><tspan x="479">43.08%</tspan><tspan x="719">30.58%</tspan><tspan x="959">18.08%</tspan></text>
</g>

<g id="row23" transform="translate(31.3,3307.3)">
<use href="#g4"/>
<use href="#pP1"/>
<g transform="translate(240,0)"><rect class="R" x="90" y="11.7" width="45" height="6.6"/><circle class="G" cx="0" cy="0" r="4.8"/><circle class="R" cx="90" cy="15" r="4.8"/><circle class="Y" cx="150" cy="30" r="4.8"/><circle class="B" cx="180" cy="45" r="4.8"/><circle class="O" cx="210" cy="60" r="4.8"/></g>
<use href="#pP3b" x="480"/><use href="#pA4" x="720"/>
<rect class="bl" x="0" width="826" height="60"/><rect class="pk" x="826" width="14" height="60"/>
<text class="t" y="-20.5"><tspan x="0" class="q">♩</tspan>=145<tspan x="480" class="q">♩</tspan>=152<tspan x="720" class="q">♩</tspan>=146</text>
<text class="m" y="-7.5"><tspan x="0">89</tspan><tspan x="240">90</tspan><tspan x="480">91</tspan><tspan x="720">92</tspan></text>
<text class="a" y="76.3"><tspan x="239">200</tspan><tspan x="479">134</tspan><tspan x="719">84</tspan><tspan x="959">124</tspan></text>
<text class="b" y="89.6"><tspan x="239">90017</tspan><tspan x="479">91475</tspan><tspan x="719">92483</tspan><tspan x="959">93749</tspan></text>
<text class="c" y="102.3"><tspan x="239">5.58%</tspan><tspan x="479">0.00%</tspan><tspan x="719">0.00%</tspan><tspan x="959">0.00%</tspan></text>
</g>

<g id="row24" transform="translate(31.3,3448.3)">
<rect class="yl" x="720" y="-10" width="210" height="81.5"/>
<use href="#g4"/>
<use href="#pA1"/><use href="#pA2" x="240"/>
<g transform="translate(480,0)"><rect class="Y" x="0" y="26.7" width="60" height="6.6"/><circle class="Y" cx="0" cy="30" r="4.8"/><circle class="Y" cx="90" cy="30" r="4.8"/><circle class="Y" cx="120" cy="30" r="4.8"/><circle class="B" cx="150" cy="45" r="4.8"/><circle class="O" cx="180" cy="60" r="4.8"/><circle class="Y" cx="210" cy="30" r="4.8"/></g>
<use href="#sA4" x="720"/>
<rect class="od" x="720" width="210" height="60"/>
<text class="t" y="-20.5"><tspan x="0" class="q">♩</tspan>=149<tspan x="240" class="q">♩</tspan>=147<tspan x="480" class="q">♩</tspan>=150<tspan x="720" class="q">♩</tspan>=148</text>
<text class="m" y="-7.5"><tspan x="0">93</tspan><tspan x="240">94</tspan><tspan x="480">95</tspan><tspan x="720">96</tspan></text>
<text class="a" y="76.3"><tspan x="239">146</tspan><tspan x="479">124</tspan><tspan x="719">162</tspan><tspan x="959">124</tspan></text>
<text class="b" y="89.6"><tspan x="239">94625</tspan><tspan x="479">95369</tspan><tspan x="719">96341</tspan><tspan x="959">97085</tspan></text>
<text class="c" y="102.3"><tspan x="239">0.00%</tspan><tspan x="479">0.00%</tspan><tspan x="719">0.00%</tspan><tspan x="959">31.80%</tspan></text>
</g>

<g id="row25" transform="translate(31.3,3589.3)">
<use href="#g4"/>
<use href="#pA1"/><use href="#pA2" x="240"/>
<g transform="translate(480,0)"><rect class="Y" x="0" y="26.7" width="60" height="6.6"/><rect class="O" x="180" y="56.7" width="45" height="6.6"/><circle class="Y" cx="0" cy="30" r="4.8"/><circle class="Y" cx="90" cy="30" r="4.8"/><circle class="Y" cx="120" cy="30" r="4.8"/><circle class="B" cx="150" cy="45" r="4.8"/><circle class="O" cx="180" cy="60" r="4.8"/></g>
<g transform="translate(720,0)"><rect class="Y" x="0" y="26.7" width="45" height="6.6"/><rect class="Y" x="60" y="26.7" width="45" height="6.6"/><rect class="Y" x="120" y="26.7" width="45" height="6.6"/><circle class="Y" cx="0" cy="30" r="4.8"/><circle class="Y" cx="60" cy="30" r="4.8"/><circle class="Y" cx="120" cy="30" r="4.8"/><circle class="Y" cx="180" cy="30" r="4.8"/><circle class="Y" cx="210" cy="30" r="4.8"/></g>
<rect class="pk" x="570" width="8" height="60"/><rect class="bl" x="578" width="382" height="60"/>
<text class="t" y="-20.5"><tspan x="0" class="q">♩</tspan>=151<tspan x="240" class="q">♩</tspan>=147<tspan x="480" class="q">♩</tspan>=146<tspan x="720" class="q">♩</tspan>=145</text>
<text class="m" y="-7.5"><tspan x="0">97</tspan><tspan x="240">98</tspan><tspan x="480">99</tspan><tspan x="720">100</tspan></text>
<text class="a" y="76.3"><tspan x="239">146</tspan><tspan x="479">124</tspan><tspan x="719">146</tspan><tspan x="959">152</tspan></text>
<text class="b" y="89.6"><tspan x="239">97961</tspan><tspan x="479">98705</tspan><tspan x="719">100235</tspan><tspan x="959">102059</tspan></text>
<text class="c" y="102.3"><tspan x="239">31.80%</tspan><tspan x="479">31.80%</tspan><tspan x="719">24.47%</tspan><tspan x="959">11.97%</tspan></text>
</g>

<g id="row26" transform="translate(31.3,3730.3)">
<use href="#g4"/>
<g><rect class="Y" x="0" y="26.7" width="45" height="6.6"/><rect class="O" x="90" y="56.7" width="45" height="6.6"/><circle class="Y" cx="0" cy="30" r="4.8"/><circle class="B" cx="60" cy="45" r="4.8"/><circle class="O" cx="90" cy="60" r="4.8"/><circle class="Y" cx="150" cy="30" r="4.8"/><circle class="B" cx="180" cy="45" r="4.8"/><circle class="Y" cx="210" cy="30" r="4.8"/></g>
<g transform="translate(240,0)"><rect class="R" x="0" y="11.7" width="45" height="6.6"/><rect class="R" x="120" y="11.7" width="60" height="6.6"/><circle class="R" cx="0" cy="15" r="4.8"/><circle class="G" cx="60" cy="0" r="4.8"/><circle class="R" cx="90" cy="15" r="4.8"/><circle class="R" cx="120" cy="15" r="4.8"/><circle class="R" cx="210" cy="15" r="4.8"/></g>
<g transform="translate(480,0)"><rect class="R" x="0" y="11.7" width="45" height="6.6"/><rect class="B" x="90" y="41.7" width="45" height="6.6"/><circle class="R" cx="0" cy="15" r="4.8"/><circle class="Y" cx="60" cy="30" r="4.8"/><circle class="B" cx="90" cy="45" r="4.8"/><circle class="Y" cx="150" cy="30" r="4.8"/><circle class="B" cx="180" cy="45" r="4.8"/><circle class="O" cx="210" cy="60" r="4.8"/></g>
<use href="#pA2" x="720"/>
<rect class="bl" x="0" width="709" height="60"/><rect class="pk" x="709" width="11" height="60"/>
<text class="t" y="-20.5"><tspan x="0" class="q">♩</tspan>=146<tspan x="240" class="q">♩</tspan>=148<tspan x="480" class="q">♩</tspan>=149<tspan x="720" class="q">♩</tspan>=152</text>
<text class="m" y="-7.5"><tspan x="0">101</tspan><tspan x="240">102</tspan><tspan x="480">103</tspan><tspan x="720">104</tspan></text>
<text class="a" y="76.3"><tspan x="239">168</tspan><tspan x="479">146</tspan><tspan x="719">168</tspan><tspan x="959">124</tspan></text>
<text class="b" y="89.6"><tspan x="239">104075</tspan><tspan x="479">105827</tspan><tspan x="719">107843</tspan><tspan x="959">108737</tspan></text>
<text class="c" y="102.3"><tspan x="239">0.00%</tspan><tspan x="479">0.00%</tspan><tspan x="719">0.00%</tspan><tspan x="959">0.00%</tspan></text>
</g>

<g id="row27" transform="translate(31.3,3871.3)">
<use href="#g4"/>
<g><rect class="Y" x="0" y="26.7" width="45" height="6.6"/><rect class="O" x="90" y="56.7" width="45" height="6.6"/><circle class="Y" cx="0" cy="30" r="4.8"/><circle class="B" cx="60" cy="45" r="4.8"/><circle class="O" cx="90" cy="60" r="4.8"/><circle class="Y" cx="150" cy="30" r="4.8"/><circle class="B" cx="180" cy="45" r="4.8"/><circle class="O" cx="210" cy="60" r="4.8"/></g>
<g transform="translate(240,0)"><rect class="G" x="0" y="-3.3" width="60" height="6.6"/><rect class="G" x="120" y="-3.3" width="60" height="6.6"/><circle class="G" cx="0" cy="0" r="4.8"/><circle class="G" cx="90" cy="0" r="4.8"/><circle class="G" cx="120" cy="0" r="4.8"/><circle class="G" cx="210" cy="0" r="4.8"/></g>
<g transform="translate(480,0)"><rect class="G" x="0" y="-3.3" width="45" height="6.6"/><circle class="G" cx="0" cy="0" r="4.8"/><circle class="R" cx="60" cy="15" r="4.8"/><circle class="Y" cx="90" cy="30" r="4.8"/><circle class="B" cx="120" cy="45" r="4.8"/><circle class="O" cx="130" cy="60" r="4.8"/><circle class="B" cx="150" cy="45" r="4.8"/><circle class="Y" cx="180" cy="30" r="4.8"/><circle class="G" cx="210" cy="0" r="4.8"/></g>
<rect class="R" x="720" y="11.7" width="240" height="6.6"/><circle class="R" cx="720" cy="15" r="4.8"/>
<text class="t" y="-20.5"><tspan x="0" class="q">♩</tspan>=144<tspan x="240" class="q">♩</tspan>=146<tspan x="720" class="q">♩</tspan>=147</text>
<text class="m" y="-7.5"><tspan x="0">105</tspan><tspan x="240">106</tspan><tspan x="480">107</tspan><tspan x="720">108</tspan></text>
<text class="a" y="76.3"><tspan x="239">168</tspan><tspan x="479">124</tspan><tspan x="719">209</tspan><tspan x="959">73</tspan></text>
<text class="b" y="89.6"><tspan x="239">109745</tspan><tspan x="479">110489</tspan><tspan x="719">111743</tspan><tspan x="959">112181</tspan></text>
<text class="c" y="102.3"><tspan x="239">0.00%</tspan><tspan x="479">0.00%</tspan><tspan x="719">0.00%</tspan><tspan x="959">0.00%</tspan></text>
</g>

<g id="row28" transform="translate(31.3,4012.3)">
<use href="#g3"/>
<rect class="R" x="0" y="11.7" width="360" height="6.6"/>
<rect class="R" x="420" y="11.7" width="90" height="6.6"/><circle class="R" cx="420" cy="15" r="4.8"/>
<text class="m" y="-7.5"><tspan x="0">109</tspan><tspan x="240">110</tspan><tspan x="480">111</tspan></text>
<text class="a" y="76.3"><tspan x="239">48</tspan><tspan x="479">61</tspan><tspan x="719">6</tspan></text>
<text class="b" y="89.6"><tspan x="239">112469</tspan><tspan x="479">112835</tspan><tspan x="719">112871</tspan></text>
<text class="c" y="102.3"><tspan x="239">0.00%</tspan><tspan x="479">0.00%</tspan><tspan x="719">0.00%</tspan></text>
</g>
</g>
</svg>
